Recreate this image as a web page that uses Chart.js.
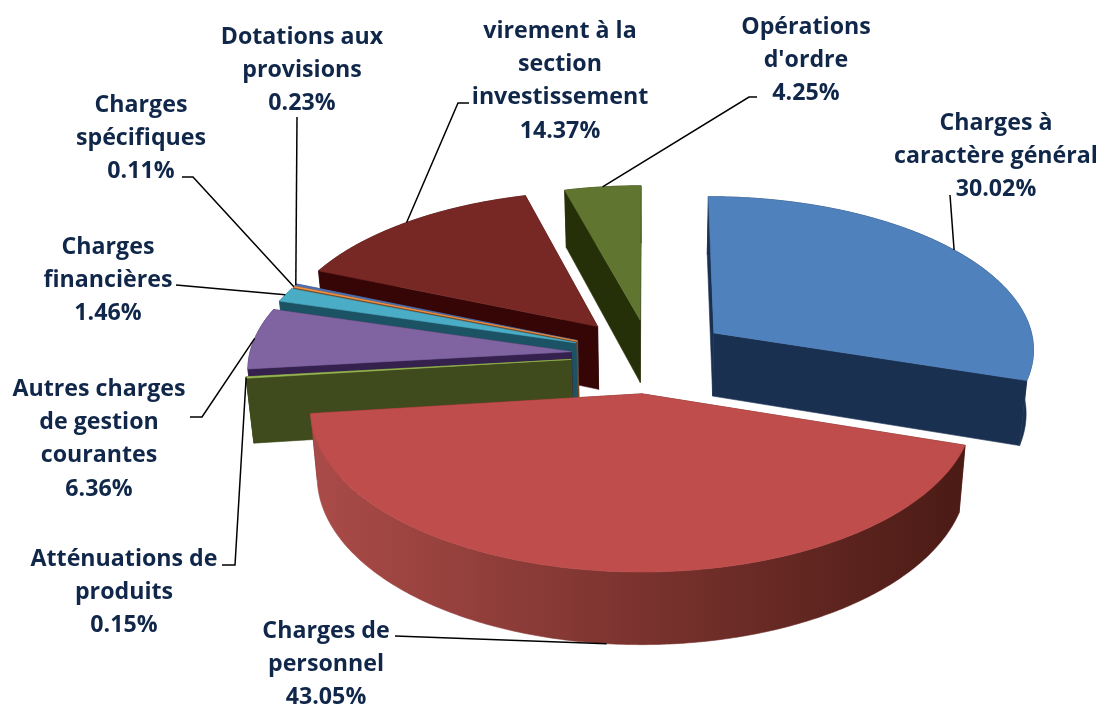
<!DOCTYPE html>
<html><head><meta charset="utf-8">
<style>html,body{margin:0;padding:0;background:#fff}canvas{display:block}</style>
<script src="https://cdn.jsdelivr.net/npm/chart.js@4"></script></head>
<body><canvas id="c" width="1102" height="706"></canvas>
<script>
const categories = ["Charges à caractère général","Charges de personnel","Atténuations de produits","Autres charges de gestion courantes","Charges financières","Charges spécifiques","Dotations aux provisions","virement à la section investissement","Opérations d'ordre"];
const values = [30.02,43.05,0.15,6.36,1.46,0.11,0.23,14.37,4.25];
const topColors = ["#4F81BD","#BE4D4B","#98B954","#8064A2","#4BACC6","#F79646","#4F6FAF","#772825","#5F7530"];
const wallColors = ["#1A3050","#6A2626","#3F4B1C","#35214D","#1C5364","#7A4A20","#2A3A60","#360606","#263008"];
const wallLeft = ["#1A3050","#A84A47","#3F4B1C","#35214D","#1C5364","#7A4A20","#2A3A60","#360606","#263008"];
const wallRight = ["#1A3050","#4A1A14","#3F4B1C","#35214D","#1C5364","#7A4A20","#2A3A60","#360606","#263008"];
const explode = [80,80,79,79,79,79,79,81,76];

const labelLines = [["Charges à","caractère général"],["Charges de","personnel"],["Atténuations de","produits"],["Autres charges","de gestion","courantes"],["Charges","financières"],["Charges","spécifiques"],["Dotations aux","provisions"],["virement à la","section","investissement"],["Opérations","d'ordre"]];
const labelX = [996,326,124,99,108,141,302,560,806];
const labelY = [123,631,559,389,247,105,37,31,27];
const lineStep = 33.3;
const leaderStart = [[[950,195]],[[395,636]],[[222,565],[235,565]],[[190,417],[202,417]],[[176,285]],[[182,177],[193,177]],[[297,117]],[[469,103],[458,103]],[[757,97],[749,97]]];
const leaderOnBase = [false,true,false,false,false,false,false,false,false];

const persp = 0.0954, tilt = 0.476, depth = 64, converge = 0.0003;

const pie3d = {
  id:'pie3d',
  beforeDatasetDraw(chart, args){
    const ctx = chart.ctx, arcs = chart.getDatasetMeta(0).data;
    const P = (el,i,r,a,h)=>{
      const R = el.outerRadius, mid=(el.startAngle+el.endAngle)/2;
      const X = r*Math.cos(a)+explode[i]*Math.cos(mid);
      const Z = r*Math.sin(a)+explode[i]*Math.sin(mid);
      const s = 1/(1-persp*Z/R);
      return [el.x+X*s*(1-converge*h), el.y+tilt*Z*s+h*s];
    };
    const poly=(pts,fill)=>{ctx.beginPath();pts.forEach((p,j)=>j?ctx.lineTo(p[0],p[1]):ctx.moveTo(p[0],p[1]));ctx.closePath();ctx.fillStyle=fill;ctx.fill();ctx.strokeStyle=fill;ctx.lineWidth=0.6;ctx.stroke();};
    const order = arcs.map((el,i)=>i).sort((a,b)=>P(arcs[a],a,0,0,0)[1]-P(arcs[b],b,0,0,0)[1]);
    order.forEach(i=>{
      const el=arcs[i], R=el.outerRadius, n=Math.max(4,Math.ceil((el.endAngle-el.startAngle)*80));
      const rim=[],base=[];
      for(let j=0;j<=n;j++){const a=el.startAngle+(el.endAngle-el.startAngle)*j/n;rim.push(P(el,i,R,a,0));base.push(P(el,i,R,a,depth));}
      const c0=P(el,i,0,0,0),c1=P(el,i,0,0,depth);
      poly([c0,rim[0],base[0],c1],wallColors[i]);
      poly([c0,rim[n],base[n],c1],wallColors[i]);
      const g=ctx.createLinearGradient(el.x-R,0,el.x+R,0);
      g.addColorStop(0,wallLeft[i]);g.addColorStop(1,wallRight[i]);
      poly(rim.concat(base.slice().reverse()),g);
      poly([c0].concat(rim),topColors[i]);
    });
    ctx.textAlign='center';ctx.textBaseline='middle';
    arcs.forEach((el,i)=>{
      const mid=(el.startAngle+el.endAngle)/2;
      const end=P(el,i,el.outerRadius,mid,leaderOnBase[i]?depth:0);
      ctx.beginPath();leaderStart[i].forEach((p,j)=>j?ctx.lineTo(p[0],p[1]):ctx.moveTo(p[0],p[1]));ctx.lineTo(end[0],end[1]);
      ctx.strokeStyle='#000';ctx.lineWidth=1.5;ctx.stroke();
      ctx.font='bold 23.2px "Open Sans"';ctx.fillStyle='#10274A';
      const lines=labelLines[i].concat(values[i].toFixed(2)+'%');
      lines.forEach((t,k)=>ctx.fillText(t,labelX[i],labelY[i]+k*lineStep));
    });
    return false;
  }
};
new Chart(document.getElementById('c'),{
  type:'pie',
  data:{labels:categories,datasets:[{data:values,backgroundColor:topColors,borderWidth:0}]},
  options:{responsive:false,animation:false,
    layout:{padding:{left:328,right:130,top:33,bottom:29}},
    plugins:{legend:{display:false},tooltip:{enabled:false}}},
  plugins:[pie3d]
});
</script></body></html>
